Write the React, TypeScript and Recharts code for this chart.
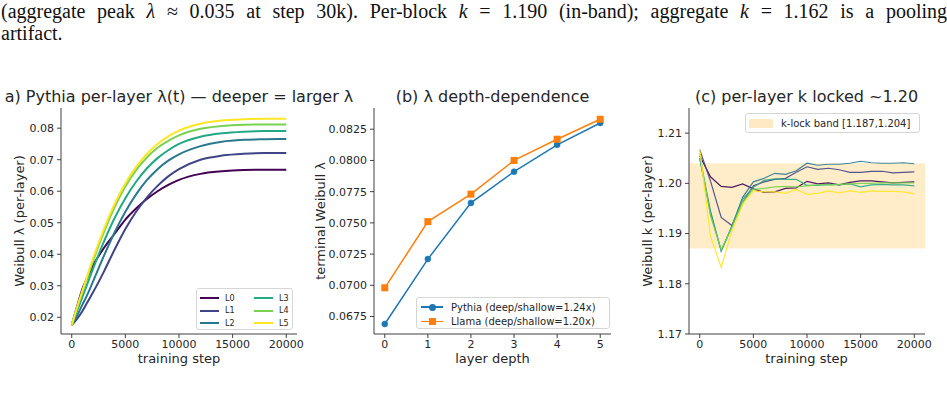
import React from "react";
import {
  LineChart,
  Line,
  XAxis,
  YAxis,
  ReferenceArea,
} from "recharts";

/* ---------------- panel (a): per-layer lambda(t) ---------------- */

const STEPS_A = [0, 500, 1000, 1500, 2000, 3000, 4000, 5000, 6000, 7000, 8000, 9000, 10000, 12000, 14000, 16000, 18000, 20000];
const LAMBDA_L0 = [0.0175, 0.0235, 0.029, 0.033, 0.0365, 0.042, 0.0465, 0.051, 0.0545, 0.0575, 0.06, 0.062, 0.0636, 0.0655, 0.0663, 0.0667, 0.0668, 0.0668];
const LAMBDA_L1 = [0.0175, 0.0195, 0.022, 0.025, 0.028, 0.0345, 0.0415, 0.048, 0.0535, 0.058, 0.0617, 0.0647, 0.067, 0.07, 0.0713, 0.0719, 0.0721, 0.0721];
const LAMBDA_L2 = [0.0175, 0.0205, 0.024, 0.0275, 0.0315, 0.0395, 0.047, 0.0535, 0.059, 0.0635, 0.067, 0.0697, 0.0717, 0.0743, 0.0757, 0.0763, 0.0765, 0.0766];
const LAMBDA_L3 = [0.0175, 0.022, 0.0265, 0.031, 0.0355, 0.044, 0.0515, 0.0578, 0.063, 0.0672, 0.0705, 0.073, 0.075, 0.0773, 0.0784, 0.0789, 0.0791, 0.0791];
const LAMBDA_L4 = [0.0175, 0.023, 0.028, 0.033, 0.038, 0.047, 0.055, 0.0615, 0.0667, 0.0707, 0.0738, 0.076, 0.0777, 0.0798, 0.0807, 0.0811, 0.0812, 0.0812];
const LAMBDA_L5 = [0.0175, 0.0232, 0.0285, 0.0337, 0.0388, 0.048, 0.056, 0.0625, 0.0677, 0.0718, 0.075, 0.0774, 0.0792, 0.0814, 0.0824, 0.0828, 0.083, 0.083];

/* ---------------- panel (b): terminal lambda by depth ---------------- */

const DEPTHS = [0, 1, 2, 3, 4, 5];
const PYTHIA_TERMINAL = [0.0669, 0.0721, 0.0766, 0.0791, 0.08125, 0.083];
const LLAMA_TERMINAL = [0.0698, 0.0751, 0.0773, 0.08, 0.0817, 0.0833];

/* ---------------- panel (c): per-layer k ---------------- */

const STEPS_C = [0, 1000, 2000, 3000, 4000, 5000, 6000, 7000, 8000, 9000, 10000, 11000, 12000, 13000, 14000, 15000, 16000, 17000, 18000, 19000, 20000];
const K_L0 = [1.2055, 1.2013, 1.1994, 1.1992, 1.1999, 1.1989, 1.1982, 1.1983, 1.199, 1.1991, 1.2004, 1.1999, 1.2001, 1.1997, 1.2002, 1.2005, 1.2005, 1.2003, 1.2001, 1.2002, 1.2003];
const K_L1 = [1.2067, 1.2005, 1.1932, 1.1916, 1.1962, 1.1995, 1.2003, 1.2008, 1.201, 1.2022, 1.2033, 1.2028, 1.203, 1.2027, 1.2022, 1.2022, 1.2024, 1.2024, 1.2021, 1.2022, 1.2023];
const K_L2 = [1.205, 1.1945, 1.1865, 1.1915, 1.1972, 1.2003, 1.201, 1.202, 1.2018, 1.2025, 1.204, 1.2036, 1.2038, 1.2038, 1.204, 1.2044, 1.2041, 1.204, 1.204, 1.2041, 1.2039];
const K_L3 = [1.205, 1.194, 1.1866, 1.1913, 1.1968, 1.1992, 1.2006, 1.2009, 1.2008, 1.2008, 1.1996, 1.1996, 1.1998, 1.1997, 1.1999, 1.1993, 1.1997, 1.1998, 1.1997, 1.1997, 1.1995];
const K_L4 = [1.206, 1.1935, 1.1868, 1.1912, 1.1962, 1.1988, 1.199, 1.1993, 1.1994, 1.1993, 1.1995, 1.1997, 1.1997, 1.1998, 1.1999, 1.2, 1.2, 1.2001, 1.2001, 1.2001, 1.2001];
const K_L5 = [1.2068, 1.1895, 1.1833, 1.1905, 1.1958, 1.1985, 1.1983, 1.1983, 1.198, 1.1988, 1.1978, 1.198, 1.1985, 1.1981, 1.1985, 1.1982, 1.1985, 1.1984, 1.1984, 1.1983, 1.1979];
const K_BAND = [1.187, 1.204];

const LAYERS = ["L0", "L1", "L2", "L3", "L4", "L5"];
const VIRIDIS = ["#440154", "#414487", "#2a788e", "#22a884", "#7ad151", "#fde725"];

const rowsA = STEPS_A.map((step, i) => ({
  step,
  L0: LAMBDA_L0[i],
  L1: LAMBDA_L1[i],
  L2: LAMBDA_L2[i],
  L3: LAMBDA_L3[i],
  L4: LAMBDA_L4[i],
  L5: LAMBDA_L5[i],
}));

const rowsB = DEPTHS.map((depth, i) => ({
  depth,
  pythia: PYTHIA_TERMINAL[i],
  llama: LLAMA_TERMINAL[i],
}));

const rowsC = STEPS_C.map((step, i) => ({
  step,
  L0: K_L0[i],
  L1: K_L1[i],
  L2: K_L2[i],
  L3: K_L3[i],
  L4: K_L4[i],
  L5: K_L5[i],
}));

const FONT = '"DejaVu Sans", sans-serif';
const SERIF = '"Liberation Serif", serif';
const INK = "#262626";
const SPINE = "#404040";
const tickStyle = { fontSize: 11, fill: INK, fontFamily: FONT };

// the top and right spines, as blank mirror axes
function Frame({ xDomain, yDomain }: { xDomain: number[]; yDomain: number[] }) {
  return (
    <>
      <XAxis xAxisId="top" orientation="top" type="number" domain={xDomain} height={0} tick={false} tickLine={false} axisLine={{ stroke: SPINE }} allowDataOverflow />
      <YAxis yAxisId="right" orientation="right" type="number" domain={yDomain} width={0} tick={false} tickLine={false} axisLine={{ stroke: SPINE }} allowDataOverflow />
    </>
  );
}

function Title({ text, cx }: { text: string; cx: number }) {
  return (
    <div style={{ position: "absolute", top: 89, left: cx - 250, width: 500, textAlign: "center", fontSize: 16, lineHeight: "16px", fontFamily: FONT, color: INK, whiteSpace: "nowrap" }}>
      {text}
    </div>
  );
}

function XLabel({ text, cx }: { text: string; cx: number }) {
  return (
    <div style={{ position: "absolute", top: 352, left: cx - 100, width: 200, textAlign: "center", fontSize: 13, lineHeight: "13px", fontFamily: FONT, color: INK }}>
      {text}
    </div>
  );
}

function YLabel({ text, cx }: { text: string; cx: number }) {
  return (
    <div style={{ position: "absolute", top: 221 - 7, left: cx - 100, width: 200, height: 14, textAlign: "center", fontSize: 13, lineHeight: "14px", fontFamily: FONT, color: INK, transform: "rotate(-90deg)", whiteSpace: "nowrap" }}>
      {text}
    </div>
  );
}

const legendBox: React.CSSProperties = {
  position: "absolute",
  background: "rgba(255,255,255,0.85)",
  border: "1px solid #d6d6d6",
  borderRadius: 3,
  fontFamily: FONT,
  color: INK,
  boxSizing: "border-box",
};

function SquareDot(props: any) {
  const { cx, cy, index } = props;
  return <rect key={`sq-${index}`} x={cx - 3.5} y={cy - 3.5} width={7} height={7} fill="#ff7f0e" />;
}

export default function App() {
  const xA = [-1000, 21000];
  const yA = [0.0147, 0.0864];
  const xB = [-0.25, 5.25];
  const yB = [0.0661, 0.0842];
  const xC = [-1000, 21000];
  const yC = [1.17, 1.215];

  return (
    <div style={{ position: "absolute", left: 0, top: 0, width: 947, height: 398, overflow: "hidden", background: "#fff" }}>
      {/* running text above the figure */}
      <div style={{ position: "absolute", left: 1, top: 0, width: 946, fontFamily: SERIF, fontSize: 20, lineHeight: "22px", color: "#111", textAlign: "justify", textAlignLast: "justify", whiteSpace: "nowrap" as any }}>
        <span style={{ whiteSpace: "normal" }}>
          (aggregate peak <i>λ</i> ≈ 0.035 at step 30k). Per-block <i>k</i> = 1.190 (in-band); aggregate <i>k</i> = 1.162 is a pooling
        </span>
      </div>
      <div style={{ position: "absolute", left: 1, top: 22, fontFamily: SERIF, fontSize: 20, lineHeight: "22px", color: "#111" }}>
        artifact.
      </div>

      {/* (a) */}
      <div style={{ position: "absolute", left: 0, top: 80 }}>
        <LineChart width={320} height={318} data={rowsA} margin={{ top: 28, right: 23, bottom: 24, left: 0 }}>
          <XAxis dataKey="step" type="number" domain={xA} ticks={[0, 5000, 10000, 15000, 20000]} tick={tickStyle} tickSize={4} tickMargin={2} height={40} axisLine={{ stroke: SPINE }} tickLine={{ stroke: SPINE }} allowDataOverflow />
          <YAxis type="number" domain={yA} ticks={[0.02, 0.03, 0.04, 0.05, 0.06, 0.07, 0.08]} tickFormatter={(v: number) => v.toFixed(2)} tick={tickStyle} tickSize={4} tickMargin={3} width={61} axisLine={{ stroke: SPINE }} tickLine={{ stroke: SPINE }} allowDataOverflow />
          <Frame xDomain={xA} yDomain={yA} />
          {LAYERS.map((l, i) => (
            <Line key={l} dataKey={l} type="monotone" stroke={VIRIDIS[i]} strokeWidth={2} dot={false} isAnimationActive={false} />
          ))}
        </LineChart>
      </div>
      <Title text="a) Pythia per-layer λ(t) — deeper = larger λ" cx={179} />
      <XLabel text="training step" cx={179} />
      <YLabel text="Weibull λ (per-layer)" cx={20} />
      <div style={{ ...legendBox, left: 196, top: 288, width: 97, height: 42, fontSize: 8 }}>
        {LAYERS.map((l, i) => (
          <div key={l} style={{ position: "absolute", left: 3, top: 3 + (i % 3) * 12.6, height: 12, display: "flex", alignItems: "center", marginLeft: i < 3 ? 0 : 54 }}>
            <span style={{ display: "inline-block", width: 19, height: 2, background: VIRIDIS[i], marginRight: 6 }} />
            {l}
          </div>
        ))}
      </div>

      {/* (b) */}
      <div style={{ position: "absolute", left: 320, top: 80 }}>
        <LineChart width={315} height={318} data={rowsB} margin={{ top: 28, right: 24, bottom: 24, left: 0 }}>
          <XAxis dataKey="depth" type="number" domain={xB} ticks={DEPTHS} tick={tickStyle} tickSize={4} tickMargin={2} height={40} axisLine={{ stroke: SPINE }} tickLine={{ stroke: SPINE }} allowDataOverflow />
          <YAxis type="number" domain={yB} ticks={[0.0675, 0.07, 0.0725, 0.075, 0.0775, 0.08, 0.0825]} tickFormatter={(v: number) => v.toFixed(4)} tick={tickStyle} tickSize={4} tickMargin={3} width={54} axisLine={{ stroke: SPINE }} tickLine={{ stroke: SPINE }} allowDataOverflow />
          <Frame xDomain={xB} yDomain={yB} />
          <Line dataKey="pythia" type="linear" stroke="#1f77b4" strokeWidth={1.5} dot={{ r: 3, fill: "#1f77b4", stroke: "#1f77b4", strokeWidth: 0.5 }} isAnimationActive={false} />
          <Line dataKey="llama" type="linear" stroke="#ff7f0e" strokeWidth={1.5} dot={SquareDot} isAnimationActive={false} />
        </LineChart>
      </div>
      <Title text="(b) λ depth-dependence" cx={492.5} />
      <XLabel text="layer depth" cx={492.5} />
      <YLabel text="terminal Weibull λ" cx={321} />
      <div style={{ ...legendBox, left: 416, top: 297, width: 194, height: 32, fontSize: 10 }}>
        {[
          { label: "Pythia (deep/shallow=1.24x)", color: "#1f77b4", square: false },
          { label: "Llama (deep/shallow=1.20x)", color: "#ff7f0e", square: true },
        ].map((e, i) => (
          <div key={e.label} style={{ position: "absolute", left: 4, top: 2 + i * 14.3, height: 14, display: "flex", alignItems: "center", whiteSpace: "nowrap" }}>
            <span style={{ position: "relative", display: "inline-block", width: 22, height: 1.5, background: e.color, marginRight: 8 }}>
              <span style={{ position: "absolute", left: 7.5, top: -2.75, width: 7, height: 7, background: e.color, borderRadius: e.square ? 0 : 4 }} />
            </span>
            {e.label}
          </div>
        ))}
      </div>

      {/* (c) */}
      <div style={{ position: "absolute", left: 635, top: 80 }}>
        <LineChart width={312} height={318} data={rowsC} margin={{ top: 28, right: 22, bottom: 24, left: 0 }}>
          <XAxis dataKey="step" type="number" domain={xC} ticks={[0, 5000, 10000, 15000, 20000]} tick={tickStyle} tickSize={4} tickMargin={2} height={40} axisLine={{ stroke: SPINE }} tickLine={{ stroke: SPINE }} allowDataOverflow />
          <YAxis type="number" domain={yC} ticks={[1.17, 1.18, 1.19, 1.2, 1.21]} tickFormatter={(v: number) => v.toFixed(2)} tick={tickStyle} tickSize={4} tickMargin={3} width={54} axisLine={{ stroke: SPINE }} tickLine={{ stroke: SPINE }} allowDataOverflow />
          <Frame xDomain={xC} yDomain={yC} />
          <ReferenceArea y1={K_BAND[0]} y2={K_BAND[1]} fill="#ffc658" fillOpacity={0.32} stroke="none" ifOverflow="hidden" />
          {LAYERS.map((l, i) => (
            <Line key={l} dataKey={l} type="linear" stroke={VIRIDIS[i]} strokeWidth={1.2} strokeOpacity={0.9} dot={false} isAnimationActive={false} />
          ))}
        </LineChart>
      </div>
      <Title text="(c) per-layer k locked ~1.20" cx={806.5} />
      <XLabel text="training step" cx={806.5} />
      <YLabel text="Weibull k (per-layer)" cx={648} />
      <div style={{ ...legendBox, left: 745, top: 113, width: 175, height: 20, fontSize: 10 }}>
        <div style={{ position: "absolute", left: 3, top: 2, height: 14, display: "flex", alignItems: "center", whiteSpace: "nowrap" }}>
          <span style={{ display: "inline-block", width: 24, height: 9, background: "#fdeac4", marginRight: 8 }} />
          k-lock band [{K_BAND[0].toFixed(3)},{K_BAND[1].toFixed(3)}]
        </div>
      </div>
    </div>
  );
}
